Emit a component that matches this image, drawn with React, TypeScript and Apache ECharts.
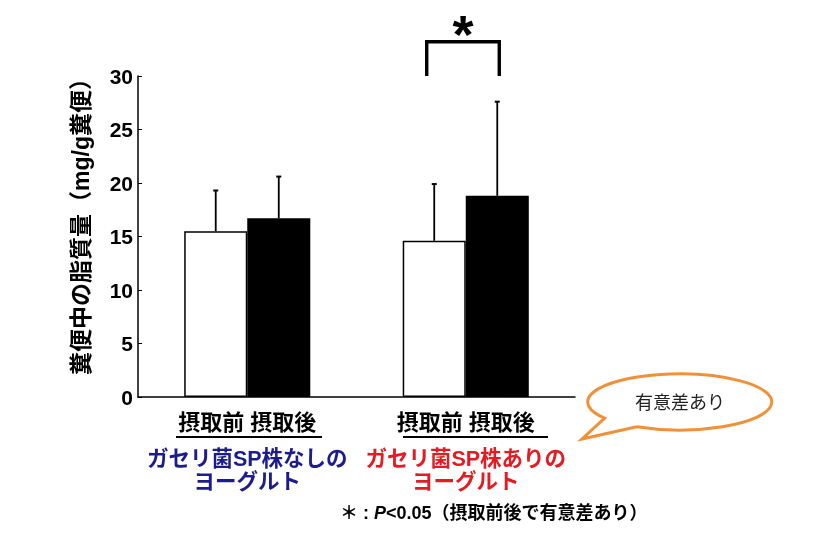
import React, { useEffect, useRef } from "react";
import * as echarts from "echarts";

const categories = ["ガセリ菌SP株なしの\nヨーグルト", "ガセリ菌SP株ありの\nヨーグルト"];
const seriesNames = ["摂取前", "摂取後"];
const beforeValues = [15.5, 14.6];
const afterValues = [16.7, 18.8];
const beforeErrTop = [19.3, 19.9];
const afterErrTop = [20.6, 27.6];
const yMin = 0;
const yMax = 30;
const yInterval = 5;
const categoryColors = ["#1c1c8c", "#e31b23"];
const sigCategory = 1;
const sigMark = "*";
const yAxisTitle = "糞便中の脂質量（mg/g糞便）";
const bubbleText = "有意差あり";

const JP = "'Liberation Sans', 'Noto Sans CJK JP', sans-serif";
const GAP = 0.423;

const bubblePath =
  "M -43.2 24.7 L -98 37 L -75.4 16.1 A 92 28 0 1 1 -43.2 24.7 Z";
echarts.graphic.registerShape("bubble", echarts.graphic.extendPath(bubblePath, {}) as any);

const errData = [
  ...beforeValues.map((v, i) => [i, v, beforeErrTop[i], -1]),
  ...afterValues.map((v, i) => [i, v, afterErrTop[i], 1]),
];

const option: any = {
  animation: false,
  grid: { left: 138, top: 76, right: 249, bottom: 140, containLabel: false },
  xAxis: {
    type: "category",
    data: categories,
    axisLine: { lineStyle: { color: "#000", width: 1.5 } },
    axisTick: { inside: true, length: 4, lineStyle: { color: "#000" } },
    axisLabel: {
      interval: 0,
      margin: 0,
      formatter: (value: string, idx: number) => {
        const key = idx === 0 ? "b" : "r";
        const lines = value.split("\n");
        return [`{h|${seriesNames.join(" ")}}`, ...lines.map((l) => `{${key}|${l}}`)].join("\n");
      },
      rich: {
        h: { fontSize: 22, fontWeight: "bold", color: "#000", lineHeight: 50, fontFamily: JP },
        b: { fontSize: 21.5, fontWeight: "bold", color: categoryColors[0], lineHeight: 23, fontFamily: JP },
        r: { fontSize: 21.5, fontWeight: "bold", color: categoryColors[1], lineHeight: 23, fontFamily: JP },
      },
    },
  },
  yAxis: {
    type: "value",
    min: yMin,
    max: yMax,
    interval: yInterval,
    splitLine: { show: false },
    axisLine: { show: true, lineStyle: { color: "#000", width: 1.5 } },
    axisTick: { show: true, inside: true, length: 4, lineStyle: { color: "#000" } },
    axisLabel: {
      color: "#000",
      fontSize: 21,
      fontWeight: "bold",
      fontFamily: "'Liberation Sans', Arial, sans-serif",
      margin: 5,
    },
  },
  series: [
    {
      type: "bar",
      name: seriesNames[0],
      data: beforeValues,
      barGap: "0%",
      barCategoryGap: `${GAP * 100}%`,
      itemStyle: { color: "#fff", borderColor: "#000", borderWidth: 1.5 },
    },
    {
      type: "bar",
      name: seriesNames[1],
      data: afterValues,
      itemStyle: { color: "#000", borderColor: "#000", borderWidth: 1.5 },
    },
    {
      type: "custom",
      name: "err",
      z: 5,
      encode: { x: 0, y: 1 },
      data: errData,
      renderItem: (params: any, api: any) => {
        const cat = api.value(0);
        const val = api.value(1);
        const top = api.value(2);
        const side = api.value(3);
        const band = api.size([1, 0])[0];
        const barW = (band * (1 - GAP)) / 2;
        const p0 = api.coord([cat, val]);
        const p1 = api.coord([cat, top]);
        const x = p0[0] + (side * barW) / 2;
        return {
          type: "group",
          children: [
            { type: "line", shape: { x1: x, y1: p0[1], x2: x, y2: p1[1] }, style: { stroke: "#000", lineWidth: 1.8 } },
            { type: "line", shape: { x1: x - 2.5, y1: p1[1], x2: x + 2.5, y2: p1[1] }, style: { stroke: "#000", lineWidth: 2 } },
          ],
        };
      },
    },
    {
      type: "custom",
      name: "sig",
      z: 5,
      clip: false,
      encode: { x: 0, y: 1 },
      data: [[sigCategory, yMax, 33.2]],
      renderItem: (params: any, api: any) => {
        const cat = api.value(0);
        const base = api.value(1);
        const topV = api.value(2);
        const band = api.size([1, 0])[0];
        const barW = (band * (1 - GAP)) / 2;
        const pb = api.coord([cat, base]);
        const pt = api.coord([cat, topV]);
        const xl = pb[0] - barW / 2 - 7.5;
        const xr = pb[0] + barW / 2 + 2;
        return {
          type: "group",
          children: [
            {
              type: "polyline",
              shape: { points: [[xl, pb[1]], [xl, pt[1]], [xr, pt[1]], [xr, pb[1]]] },
              style: { stroke: "#000", lineWidth: 3.4, fill: "none", lineJoin: "miter" },
            },
            {
              type: "text",
              x: (xl + xr) / 2,
              y: pt[1] - 8,
              style: {
                text: sigMark,
                font: "bold 54px 'Liberation Sans', Arial, sans-serif",
                fill: "#000",
                align: "center",
                verticalAlign: "middle",
              },
            },
          ],
        };
      },
    },
  ],
  graphic: [
    {
      type: "text",
      x: 81,
      y: 221,
      rotation: Math.PI / 2,
      style: {
        text: yAxisTitle,
        font: `bold 23px ${JP}`,
        fill: "#000",
        align: "center",
        verticalAlign: "middle",
      },
    },
    { type: "line", shape: { x1: 176, y1: 437, x2: 322, y2: 437 }, style: { stroke: "#000", lineWidth: 2 } },
    { type: "line", shape: { x1: 403, y1: 437, x2: 548, y2: 437 }, style: { stroke: "#000", lineWidth: 2 } },
    {
      type: "text",
      x: 340,
      y: 513,
      style: {
        text: "{a|＊ : }{i|P}{a|<0.05（摂取前後で有意差あり）}",
        align: "left",
        verticalAlign: "middle",
        rich: {
          a: { fontSize: 18, fontWeight: "bold", fontFamily: JP, fill: "#000" },
          i: { fontSize: 18, fontWeight: "bold", fontStyle: "italic", fontFamily: JP, fill: "#000" },
        },
      },
    },
    {
      type: "bubble",
      x: 680,
      y: 402,
      style: { fill: "#fff", stroke: "#f0913a", lineWidth: 3 },
    },
    {
      type: "text",
      x: 680,
      y: 401,
      style: {
        text: bubbleText,
        font: "18px 'Noto Sans CJK JP', sans-serif",
        fill: "#222",
        align: "center",
        verticalAlign: "middle",
      },
    },
  ],
};

export default function App() {
  const ref = useRef<HTMLDivElement>(null);
  useEffect(() => {
    const chart = echarts.init(ref.current!, null, { renderer: "svg" });
    chart.setOption(option);
    return () => chart.dispose();
  }, []);
  return <div ref={ref} style={{ position: "fixed", left: 0, top: 0, width: 824, height: 537 }} />;
}
